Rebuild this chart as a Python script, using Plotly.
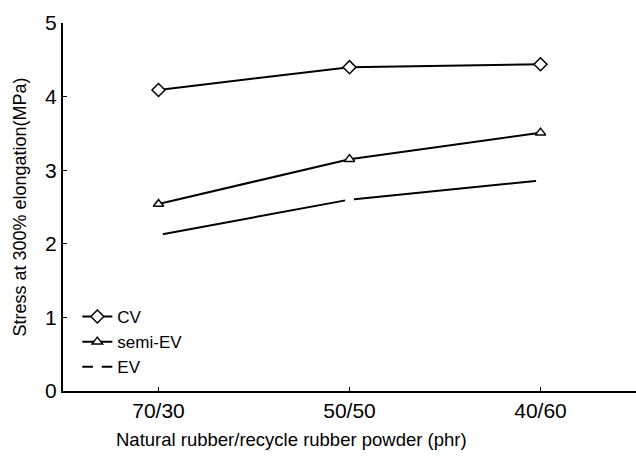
import plotly.graph_objects as go

categories = ["70/30", "50/50", "40/60"]
cv = [4.09, 4.40, 4.44]
semi_ev = [2.54, 3.15, 3.51]
ev = [2.12, 2.60, 2.86]
y_ticks = [0, 1, 2, 3, 4, 5]

FONT = "Liberation Sans, Arial, sans-serif"

fig = go.Figure()
fig.add_trace(go.Scatter(
    x=categories, y=cv, name="CV", mode="lines+markers",
    line=dict(color="black", width=2),
    marker=dict(symbol="diamond", size=10, color="white",
                line=dict(color="black", width=1.5)),
))
fig.add_trace(go.Scatter(
    x=categories, y=semi_ev, name="semi-EV", mode="lines+markers",
    line=dict(color="black", width=2),
    marker=dict(symbol="triangle-up", size=9, color="white",
                line=dict(color="black", width=1.5)),
))
fig.add_trace(go.Scatter(
    x=categories, y=ev, name="EV", mode="lines+markers",
    line=dict(color="black", width=2),
    marker=dict(symbol="circle", size=9, color="white",
                line=dict(color="white", width=0)),
))

fig.update_layout(
    width=636, height=463,
    margin=dict(l=63, r=0, t=23, b=72),
    paper_bgcolor="white", plot_bgcolor="white",
    font=dict(family=FONT, size=18, color="black"),
    showlegend=True,
    legend=dict(x=0.025, y=0.25, xanchor="left", yanchor="top",
                bgcolor="rgba(0,0,0,0)", font=dict(size=17),
                tracegroupgap=0, itemwidth=30),
    xaxis=dict(
        type="category", range=[-0.5, 2.5],
        showline=True, linecolor="black", linewidth=2,
        ticks="inside", ticklen=4, tickcolor="black", tickwidth=1,
        showgrid=False, zeroline=False, tickfont=dict(size=21),
    ),
    yaxis=dict(
        range=[0, 5], tickvals=y_ticks,
        showline=True, linecolor="black", linewidth=2,
        ticks="inside", ticklen=4, tickcolor="black", tickwidth=1,
        showgrid=False, zeroline=False, tickfont=dict(size=21),
        title=dict(text="Stress at 300% elongation(MPa)",
                   font=dict(size=18), standoff=14),
    ),
    annotations=[dict(
        text="Natural rubber/recycle rubber powder (phr)",
        xref="paper", yref="paper", x=0.398, y=-0.133,
        xanchor="center", yanchor="middle", showarrow=False,
        font=dict(size=18.5),
    )],
)

fig.write_html("out.html", config={"displayModeBar": False},
               post_script="document.body.style.margin='0';"
                           "document.body.style.overflow='hidden';"
                           "document.documentElement.style.overflow='hidden';")
